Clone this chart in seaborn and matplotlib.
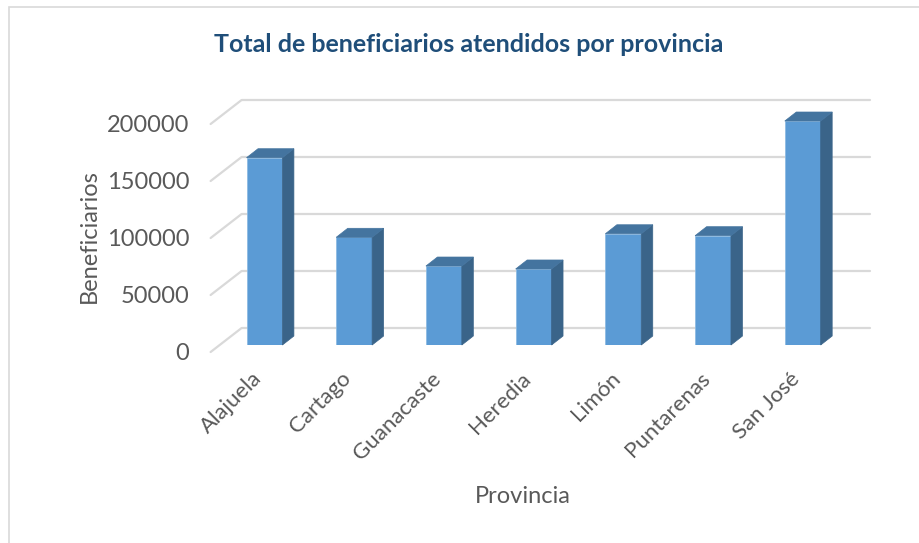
import matplotlib
matplotlib.use("Agg")
import matplotlib.pyplot as plt
import seaborn as sns
import pandas as pd
from matplotlib.patches import Polygon, Rectangle
from matplotlib.lines import Line2D
from matplotlib.transforms import IdentityTransform, ScaledTranslation

# data
provincias = ["Alajuela", "Cartago", "Guanacaste", "Heredia", "Limón", "Puntarenas", "San José"]
beneficiarios = [164300, 94500, 69300, 66700, 97600, 95900, 196500]
yticks = [0, 50000, 100000, 150000, 200000]

df = pd.DataFrame({"Provincia": provincias, "Beneficiarios": beneficiarios})

sns.set_theme(style="white")
plt.rcParams["font.family"] = ["Lato", "DejaVu Sans"]

fig = plt.figure(figsize=(9.2, 5.43), dpi=100)
ax = fig.add_axes([0.2387, 0.3646, 0.6826, 0.4199])
sns.barplot(data=df, x="Provincia", y="Beneficiarios", color="#5B9BD5", saturation=1,
            width=0.4, edgecolor="#8DBBE3", linewidth=0.6, ax=ax, zorder=2)
ax.set_xlim(-0.5, 6.5)
ax.set_ylim(0, 200000)
ax.set_yticks(yticks)
ax.set_yticklabels([str(v) for v in yticks])
for s in ax.spines.values():
    s.set_visible(False)
ax.patch.set_alpha(0)

fig.canvas.draw()
px = IdentityTransform()

# pseudo 3d: back wall grid and floor diagonals
back = (22, 17)
front = (-9, -7)
(xl, _), (xr, _) = ax.transData.transform([(-0.5, 0), (6.5, 0)])
for v in yticks:
    y = ax.transData.transform((0, v))[1]
    ax.add_line(Line2D([xl + back[0], xr + back[0]], [y + back[1], y + back[1]],
                       transform=px, color="#D9D9D9", lw=1.6, clip_on=False, zorder=0.5))
    ax.add_line(Line2D([xl + front[0], xl + back[0]], [y + front[1], y + back[1]],
                       transform=px, color="#D9D9D9", lw=1.6, clip_on=False, zorder=0.5))

# side and top faces of each bar
dx, dy = 11.5, 9
for bar in ax.patches:
    (x0, y0), (x1, y1) = ax.transData.transform(
        [(bar.get_x(), 0), (bar.get_x() + bar.get_width(), bar.get_height())])
    side = Polygon([(x1, y0), (x1 + dx, y0 + dy), (x1 + dx, y1 + dy), (x1, y1)],
                   closed=True, transform=px, facecolor="#3A6489", edgecolor="#3A6489",
                   lw=0.5, clip_on=False, zorder=3)
    top = Polygon([(x0, y1), (x0 + dx, y1 + dy), (x1 + dx, y1 + dy), (x1, y1)],
                  closed=True, transform=px, facecolor="#44749F", edgecolor="#44749F",
                  lw=0.5, clip_on=False, zorder=3)
    ax.add_patch(side)
    ax.add_patch(top)

ax.tick_params(axis="y", length=0, pad=22, labelsize=17, labelcolor="#595959")
ax.tick_params(axis="x", length=0, pad=22, labelsize=16, labelcolor="#595959")
for lbl in ax.get_yticklabels():
    lbl.set_transform(lbl.get_transform() + ScaledTranslation(0, -0.06, fig.dpi_scale_trans))
for lbl in ax.get_xticklabels():
    lbl.set_rotation(45)
    lbl.set_ha("right")
    lbl.set_va("center")
    lbl.set_rotation_mode("anchor")
    lbl.set_transform(lbl.get_transform() + ScaledTranslation(-0.06, 0, fig.dpi_scale_trans))

ax.set_ylabel("Beneficiarios", fontsize=17, color="#595959")
ax.set_xlabel("Provincia", fontsize=17, color="#595959")
ax.yaxis.set_label_coords(-0.19, 0.48)
ax.xaxis.set_label_coords(0.483, -0.62)

fig.suptitle("Total de beneficiarios atendidos por provincia", x=469 / 920, y=1 - 45 / 543,
             va="center", fontsize=18, fontweight="bold", color="#1F4E79")

fig.add_artist(Rectangle((9, -5), 930, 541, transform=px, fill=False,
                         edgecolor="#D9D9D9", lw=1.2))

fig.savefig("out.png", dpi=100)
